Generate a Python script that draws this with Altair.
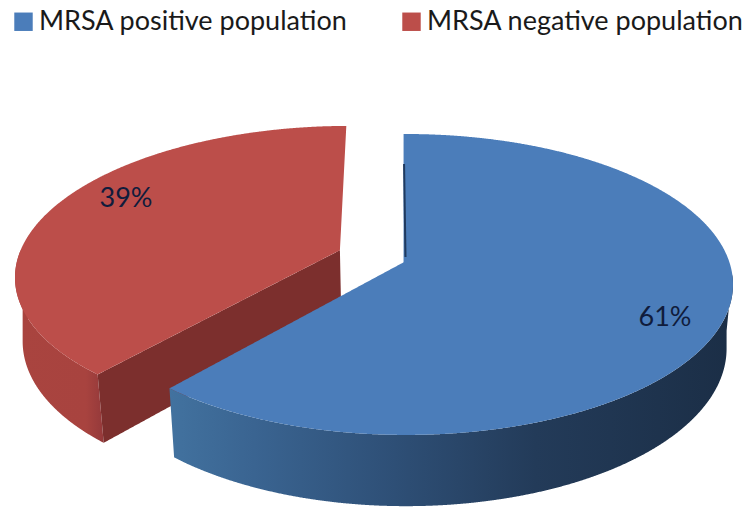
import numpy as np
import pandas as pd
import altair as alt

# Pie values and text
categories = ["MRSA positive population", "MRSA negative population"]
shares = [61, 39]
share_labels = ["61%", "39%"]
top_colors = ["#4b7dba", "#bc4e4a"]

# Perspective model of the tilted pie, in screen units
CX, CY = 406.0, 261.0
A, B = 323.0, 146.8
K = 0.156
DEPTH = 63.0
SHRINK = 0.02
START_DEG = -0.5
TWIST_DEG = 1.2
EXPLODE = 0.22

W, H = 752, 510


def project(u, v, lowered=False):
    d = 1 + K * v
    if lowered:
        s = d * (1 + SHRINK)
        return CX + A * u / s, CY - B * v / s + DEPTH / d
    return CX + A * u / d, CY - B * v / d


def angles(a0, a1, n=240):
    # The view rotates the front of the disc a little further than the back
    deg = np.linspace(a0, a1, n)
    return np.radians(START_DEG + deg + TWIST_DEG * np.sin(np.radians(deg) / 2) ** 2)


def column_spans(px, py):
    """Turn a closed outline into x / y / y2 columns for an area mark."""
    px, py = np.asarray(px), np.asarray(py)
    x0, y0 = px, py
    x1, y1 = np.roll(px, -1), np.roll(py, -1)
    grid = np.unique(np.round(np.r_[px - 0.01, px + 0.01, np.arange(px.min(), px.max(), 1.0)], 2))
    grid = grid[(grid >= px.min()) & (grid <= px.max())]
    rows = []
    for gx in grid:
        mask = ((x0 <= gx) & (x1 >= gx) | (x1 <= gx) & (x0 >= gx)) & (x0 != x1)
        if not mask.any():
            continue
        ys = y0[mask] + (gx - x0[mask]) * (y1[mask] - y0[mask]) / (x1[mask] - x0[mask])
        rows.append({"x": float(gx), "y": float(ys.min()), "y2": float(ys.max())})
    return pd.DataFrame(rows)


x_scale = alt.Scale(domain=[0, W], range=[0, W], nice=False, zero=False)
y_scale = alt.Scale(domain=[0, H], range=[0, H], nice=False, zero=False)


def area_layer(df, fill=None):
    mark = alt.Chart(df).mark_area(interpolate="linear", fill=fill, stroke=None, clip=False)
    return mark.encode(
        x=alt.X("x:Q", scale=x_scale, axis=None),
        y=alt.Y("y:Q", scale=y_scale, axis=None),
        y2="y2:Q",
    )


def shade(stops):
    return alt.Gradient(
        gradient="linear",
        x1=0, x2=1, y1=0, y2=0,
        stops=[alt.GradientStop(offset=o, color=c) for o, c in stops],
    )


# Slice sweeps, clockwise from twelve o'clock
blue_end = 360.0 * shares[0] / sum(shares)
red_mid = np.radians((blue_end + 360.0) / 2)
off_u, off_v = EXPLODE * np.sin(red_mid), EXPLODE * np.cos(red_mid)

# Blue slice
th = angles(0, blue_end)
bu, bv = np.sin(th), np.cos(th)
bx, by = project(bu, bv)
blue_top = column_spans(np.r_[CX, bx], np.r_[CY, by])
blue_top["category"] = categories[0]

th = angles(95, blue_end)
wu, wv = np.sin(th), np.cos(th)
wx, wy = project(wu, wv)
lx, ly = project(wu, wv, lowered=True)
blue_wall = column_spans(np.r_[wx, lx[::-1]], np.r_[wy, ly[::-1]])

# Red slice, pulled out along its own bisector
th = angles(blue_end, 360)
ru, rv = np.sin(th) + off_u, np.cos(th) + off_v
rx, ry = project(ru, rv)
ax, ay = project(np.array([off_u]), np.array([off_v]))
red_top = column_spans(np.r_[ax, rx], np.r_[ay, ry])
red_top["category"] = categories[1]

th = angles(blue_end, 270)
wu, wv = np.sin(th) + off_u, np.cos(th) + off_v
wx, wy = project(wu, wv)
lx, ly = project(wu, wv, lowered=True)
red_wall = column_spans(np.r_[wx, lx[::-1]], np.r_[wy, ly[::-1]])

# Red cut face running from the hub to the front corner
ex, ey = project(np.array([ru[0]]), np.array([rv[0]]))
elx, ely = project(np.array([ru[0]]), np.array([rv[0]]), lowered=True)
alx, aly = project(np.array([off_u]), np.array([off_v]), lowered=True)
red_cut = column_spans(np.r_[ax, ex, elx, alx], np.r_[ay, ey, ely, aly])

# Thin inner face showing beside the blue slice's upright edge
tx, ty = project(np.array([bu[0]]), np.array([bv[0]]))
sliver = pd.DataFrame(
    {"x": [float(tx[0]) + 0.5, float(CX) - 0.5], "y": [float(ty[0]) + 30, CY - 4]}
)

legend = alt.Legend(
    title=None, orient="none", legendX=10, legendY=8, direction="horizontal",
    columns=2, columnPadding=50, symbolType="square", symbolSize=340,
    symbolStrokeWidth=0, labelFont="Lato", labelFontSize=27, labelColor="#1a1a1a",
    labelLimit=400, labelOffset=2,
)

color = alt.Color(
    "category:N",
    scale=alt.Scale(domain=categories, range=top_colors),
    legend=legend,
)


def top_layer(df):
    return alt.Chart(df).mark_area(interpolate="linear").encode(
        x=alt.X("x:Q", scale=x_scale, axis=None),
        y=alt.Y("y:Q", scale=y_scale, axis=None),
        y2="y2:Q",
        color=color,
    )


sliver_layer = alt.Chart(sliver).mark_line(color="#1f3a5f", strokeWidth=2).encode(
    x=alt.X("x:Q", scale=x_scale, axis=None),
    y=alt.Y("y:Q", scale=y_scale, axis=None),
)

labels = pd.DataFrame({"text": share_labels, "x": [665, 126], "y": [318, 199]})
label_layer = alt.Chart(labels).mark_text(
    font="Lato", fontSize=27, color="#101c3c", align="center", baseline="middle"
).encode(
    x=alt.X("x:Q", scale=x_scale, axis=None),
    y=alt.Y("y:Q", scale=y_scale, axis=None),
    text="text:N",
)

chart = alt.layer(
    area_layer(red_wall, shade([(0, "#a9443f"), (0.8, "#a8433f"), (1, "#94393a")])),
    area_layer(red_cut, "#7c2f2d"),
    top_layer(red_top),
    area_layer(blue_wall, shade([
        (0, "#42729f"), (0.15, "#3a6491"), (0.4, "#2e4f76"),
        (0.65, "#233b59"), (1, "#1b2e46"),
    ])),
    top_layer(blue_top),
    sliver_layer,
    label_layer,
).properties(
    width=W, height=H, padding=0, autosize=alt.AutoSizeParams(type="none")
).configure_view(stroke=None)

chart.save("out.html", embed_options={"renderer": "svg", "actions": False})
